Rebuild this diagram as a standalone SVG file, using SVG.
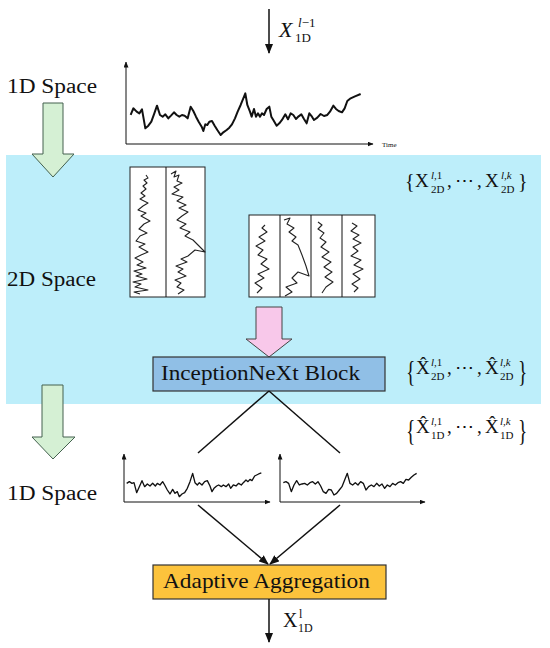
<svg xmlns="http://www.w3.org/2000/svg" width="550" height="648" viewBox="0 0 550 648">
<style>
.t{font-family:"Liberation Serif","DejaVu Serif",serif;fill:#111}
.i{font-style:italic}
.ax{stroke:#111;stroke-width:1;fill:none}
.ln{stroke:#111;stroke-width:1.5;fill:none}
.sq{stroke:#222;stroke-width:1.1;fill:none;stroke-linejoin:round}
.box2{fill:#fff;stroke:#222;stroke-width:1}
.garrow{fill:#d5f0d4;stroke:#44614f;stroke-width:1}
</style>
<defs>
<marker id="ah" markerWidth="10" markerHeight="8" refX="9" refY="4" orient="auto" markerUnits="userSpaceOnUse"><path d="M0,0 L10,4 L0,8 Z" fill="#111"/></marker>
<marker id="sa" markerWidth="6" markerHeight="5" refX="5.5" refY="2.5" orient="auto" markerUnits="userSpaceOnUse"><path d="M0,0 L6,2.5 L0,5 Z" fill="#111"/></marker>
</defs>

<rect id="band" x="6" y="155" width="535" height="249" fill="#bdeefa"/>

<g id="labels-space">
<text class="t" x="7" y="93" font-size="20" textLength="90" lengthAdjust="spacingAndGlyphs">1D Space</text>
<text class="t" x="7" y="286" font-size="20" textLength="89" lengthAdjust="spacingAndGlyphs">2D Space</text>
<text class="t" x="7" y="500" font-size="20" textLength="90" lengthAdjust="spacingAndGlyphs">1D Space</text>
</g>

<g id="green-arrow-1"><path class="garrow" d="M43,103 H63 V154 H74 L53,177 L32,154 H43 Z"/></g>
<g id="green-arrow-2"><path class="garrow" d="M42,385 H63 V437 H75 L53,459 L32,437 H42 Z"/></g>

<g id="input-label">
<text class="t i" x="279" y="37" font-size="22">X</text>
<text class="t" x="298" y="27" font-size="13"><tspan class="i">l</tspan>−1</text>
<text class="t" x="295" y="42" font-size="13">1D</text>
</g>

<g id="chart-top">
<line class="ax" x1="126" y1="144" x2="126" y2="62" marker-end="url(#sa)"/>
<line class="ax" x1="126" y1="144" x2="373" y2="144" marker-end="url(#sa)"/>
<text class="t" x="382" y="147" font-size="7">Time</text>
<polyline transform="translate(110,55) scale(0.3333)" fill="none" stroke="#111" stroke-width="6" stroke-linejoin="round" points="62,180 70,160 80,170 88,175 96,163 106,220 115,212 124,200 133,175 141,152 150,180 158,185 166,178 175,190 183,182 192,172 200,180 208,185 216,180 224,182 233,190 242,155 250,168 258,185 266,200 275,215 280,228 286,208 292,210 298,200 306,198 314,212 322,225 332,240 340,232 350,225 358,218 366,208 375,190 383,170 392,150 400,130 406,115 412,150 420,170 425,185 432,162 438,185 444,175 450,185 456,175 462,180 470,162 478,155 484,185 490,195 500,212 508,205 516,195 526,178 534,193 542,175 550,180 558,192 566,184 574,178 582,192 590,205 598,175 606,185 612,195 622,188 632,177 642,183 652,180 660,170 670,152 678,162 686,168 696,172 704,160 712,138 722,130 735,124 752,117"/>
</g>

<g id="image-2d-a">
<rect class="box2" x="130" y="167" width="75" height="130"/>
<line class="ax" x1="166" y1="167" x2="166" y2="297"/>
<polyline class="sq" points="146,175 148,178 144,180 147,183 143,186 146,189 141,193 145,196 140,199 148,203 143,206 138,210 146,213 141,216 150,221 144,224 139,229 147,233 140,236 136,241 145,244 139,247 148,252 141,255 135,258 143,262 137,265 146,268 134,271 142,274 136,276 147,279 133,282 141,284 135,287 148,290 134,292 140,294"/>
<polyline class="sq" points="171,174 176,171 174,177 179,175 177,181 182,183 174,187 179,190 172,194 183,197 177,201 186,205 179,208 188,212 182,216 177,220 186,224 180,228 190,232 185,236 193,240 198,245 205,252 195,250 188,256 181,259 187,262 176,266 183,269 178,272 186,276 175,280 181,283 177,287 184,290 178,294"/>
</g>

<g id="image-2d-b">
<rect class="box2" x="249" y="215" width="126" height="82"/>
<line class="ax" x1="280" y1="215" x2="280" y2="297"/>
<line class="ax" x1="311" y1="215" x2="311" y2="297"/>
<line class="ax" x1="342" y1="215" x2="342" y2="297"/>
<polyline class="sq" points="265,225 262,228 267,232 259,237 265,241 256,246 263,250 258,255 267,259 261,264 269,269 258,274 264,278 255,283 262,288 257,293"/>
<polyline class="sq" points="284,220 290,218 287,224 294,228 289,232 296,237 292,241 298,245 302,255 306,266 309,276 298,272 292,278 297,283 286,287 292,292 285,296"/>
<polyline class="sq" points="318,222 322,225 318,229 324,233 320,238 326,242 321,247 329,252 322,257 331,262 324,267 332,272 325,277 333,282 326,287 322,293"/>
<polyline class="sq" points="352,223 357,226 351,231 359,235 353,239 361,243 353,247 358,251 351,256 361,260 354,265 363,269 353,274 360,279 352,284 358,288 354,292"/>
</g>

<g id="set-2d-label">
<text class="t" x="405" y="188" font-size="20">{</text>
<text class="t" x="415" y="187" font-size="19">X</text>
<text class="t" x="431" y="179" font-size="11"><tspan class="i">l</tspan>,1</text>
<text class="t" x="431" y="193" font-size="11">2D</text>
<text class="t" x="447" y="187" font-size="19">,</text>
<text class="t" x="455" y="187" font-size="19" font-family="DejaVu Sans">⋯</text>
<text class="t" x="477" y="187" font-size="19">,</text>
<text class="t" x="485" y="187" font-size="19">X</text>
<text class="t" x="501" y="179" font-size="11"><tspan class="i">l</tspan>,<tspan class="i">k</tspan></text>
<text class="t" x="501" y="193" font-size="11">2D</text>
<text class="t" x="518" y="188" font-size="20">}</text>
</g>

<g id="pink-arrow"><path d="M256,307 H282 V339 H292 L269,357 L246,339 H256 Z" fill="#f8c8ea" stroke="#444" stroke-width="1"/></g>

<g id="inception-block">
<rect x="153" y="357" width="232" height="34" fill="#90bfe6" stroke="#333" stroke-width="1.2"/>
<text class="t" x="161" y="380" font-size="20" textLength="199" lengthAdjust="spacingAndGlyphs">InceptionNeXt Block</text>
</g>

<g id="set-2d-hat-label">
<text class="t" transform="translate(406,381) scale(0.65,1)" font-size="30">{</text>
<text class="t" x="416" y="374" font-size="19">X&#x302;</text>
<text class="t" x="431" y="366" font-size="11"><tspan class="i">l</tspan>,1</text>
<text class="t" x="431" y="380" font-size="11">2D</text>
<text class="t" x="447" y="374" font-size="19">,</text>
<text class="t" x="455" y="374" font-size="19" font-family="DejaVu Sans">⋯</text>
<text class="t" x="477" y="374" font-size="19">,</text>
<text class="t" x="485" y="374" font-size="19">X&#x302;</text>
<text class="t" x="500" y="366" font-size="11"><tspan class="i">l</tspan>,<tspan class="i">k</tspan></text>
<text class="t" x="500" y="380" font-size="11">2D</text>
<text class="t" transform="translate(518,381) scale(0.65,1)" font-size="30">}</text>
</g>

<g id="set-1d-hat-label">
<text class="t" transform="translate(406,440) scale(0.65,1)" font-size="30">{</text>
<text class="t" x="416" y="433" font-size="19">X&#x302;</text>
<text class="t" x="431" y="425" font-size="11"><tspan class="i">l</tspan>,1</text>
<text class="t" x="431" y="439" font-size="11">1D</text>
<text class="t" x="447" y="433" font-size="19">,</text>
<text class="t" x="455" y="433" font-size="19" font-family="DejaVu Sans">⋯</text>
<text class="t" x="477" y="433" font-size="19">,</text>
<text class="t" x="485" y="433" font-size="19">X&#x302;</text>
<text class="t" x="500" y="425" font-size="11"><tspan class="i">l</tspan>,<tspan class="i">k</tspan></text>
<text class="t" x="500" y="439" font-size="11">1D</text>
<text class="t" transform="translate(518,440) scale(0.65,1)" font-size="30">}</text>
</g>

<g id="chart-bottom-left">
<line class="ax" x1="124" y1="502" x2="124" y2="454" marker-end="url(#sa)"/>
<line class="ax" x1="124" y1="502" x2="270" y2="502" marker-end="url(#sa)"/>
<polyline transform="translate(110,440) scale(0.3333)" fill="none" stroke="#111" stroke-width="4" stroke-linejoin="round" points="50,130 58,125 66,130 72,128 80,158 88,140 96,122 104,140 112,132 120,138 128,130 136,138 142,130 150,135 158,125 164,135 172,150 180,162 188,148 195,160 202,155 208,170 216,162 224,158 232,145 240,125 248,100 255,128 262,135 268,128 276,135 284,125 292,122 300,138 306,155 312,145 320,138 326,135 334,140 340,135 348,140 356,132 362,145 370,135 378,138 386,130 394,135 400,128 408,120 414,125 420,118 426,122 434,108 446,102 454,99"/>
</g>

<g id="chart-bottom-right">
<line class="ax" x1="280" y1="502" x2="280" y2="454" marker-end="url(#sa)"/>
<line class="ax" x1="280" y1="502" x2="425" y2="502" marker-end="url(#sa)"/>
<polyline transform="translate(110,440) scale(0.3333)" fill="none" stroke="#111" stroke-width="4" stroke-linejoin="round" points="520,128 528,125 536,130 544,155 552,135 560,122 568,135 576,132 584,130 592,135 600,128 608,125 616,132 624,125 632,138 640,155 648,160 656,148 664,150 672,165 680,160 688,150 696,140 704,120 712,100 720,130 728,135 736,128 744,135 752,125 760,130 768,150 776,140 784,135 792,140 800,130 808,138 816,132 824,145 832,135 840,140 848,130 856,135 864,128 872,125 880,130 888,118 896,120 904,112 912,105 920,100"/>
</g>

<g id="aggregation">
<rect x="153" y="565" width="233" height="34" fill="#fcc33c" stroke="#333" stroke-width="1.2"/>
<text class="t" x="163" y="588" font-size="21" textLength="207" lengthAdjust="spacingAndGlyphs">Adaptive Aggregation</text>
</g>

<g id="output-label">
<text class="t" x="283" y="627" font-size="20">X</text>
<text class="t" x="299" y="618" font-size="12">l</text>
<text class="t" x="298" y="632" font-size="12">1D</text>
</g>

<g id="connectors">
<line class="ln" x1="269" y1="9" x2="269" y2="53" marker-end="url(#ah)"/>
<line class="ln" x1="269" y1="391" x2="198" y2="453"/>
<line class="ln" x1="269" y1="391" x2="340" y2="453"/>
<line class="ln" x1="198" y1="505" x2="268" y2="564" marker-end="url(#ah)"/>
<line class="ln" x1="340" y1="505" x2="270" y2="564" marker-end="url(#ah)"/>
<line class="ln" x1="269" y1="599" x2="269" y2="642" marker-end="url(#ah)"/>
</g>
</svg>
